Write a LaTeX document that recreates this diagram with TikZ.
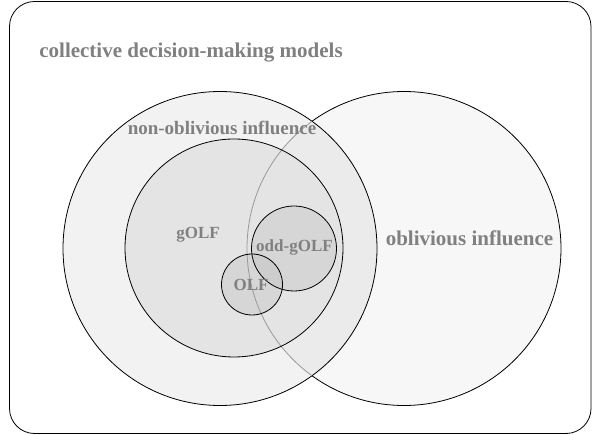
\documentclass[tikz,border=0pt]{standalone}
\usepackage{fontspec}
\setmainfont{Liberation Serif}
\definecolor{txtgray}{HTML}{808080}
\definecolor{fillA}{HTML}{F2F2F2}
\definecolor{fillAB}{HTML}{EBEBEB}
\definecolor{fillB}{HTML}{F7F7F7}
\definecolor{fillG}{HTML}{E4E4E4}
\definecolor{fillS}{HTML}{D6D6D6}
\definecolor{fillSS}{HTML}{CDCDCD}
\definecolor{arcgray}{HTML}{9A9A9A}
\tikzset{
  ring/.style={draw=black, line width=0.8pt},
  lbl/.style={text=txtgray, font=\bfseries, inner sep=0pt, anchor=center},
}
\begin{document}
\begin{tikzpicture}[x=1pt,y=-1pt]
\useasboundingbox (0,0) rectangle (592,435);
\coordinate (cA) at (220,248.5);
\coordinate (cB) at (404,248.5);
\coordinate (cG) at (234,248);
\coordinate (cS) at (294,248.5);
\coordinate (cO) at (252,284.5);
% frame
\draw[black, line width=0.8pt, rounded corners=25pt] (9.5,1.5) rectangle (591,433.5);
% oblivious influence
\fill[fillB] (cB) circle[radius=157];
\draw[ring] (cB) circle[radius=157];
% non-oblivious influence
\fill[fillA] (cA) circle[radius=157];
\begin{scope}
  \clip (cB) circle[radius=157];
  \fill[fillAB] (cA) circle[radius=157];
\end{scope}
\draw[ring] (cA) circle[radius=157];
% gOLF
\fill[fillG] (cG) circle[radius=109];
% odd-gOLF and OLF
\fill[fillS] (cS) circle[radius=42.5];
\fill[fillS] (cO) circle[radius=30.5];
\begin{scope}
  \clip (cS) circle[radius=42.5];
  \fill[fillSS] (cO) circle[radius=30.5];
\end{scope}
% arc of oblivious influence inside the left circle
\begin{scope}
  \clip (cA) circle[radius=156.6];
  \draw[arcgray, line width=0.8pt] (cB) circle[radius=157];
\end{scope}
\draw[ring] (cG) circle[radius=109];
\draw[ring] (cS) circle[radius=42.5];
\draw[ring] (cO) circle[radius=30.5];
% labels
\node[lbl, font=\fontsize{21}{24}\selectfont\bfseries] (title) at (191,53) {collective decision-making models};
\node[lbl, font=\fontsize{19}{22}\selectfont\bfseries] (nonobl) at (222,128) {non-oblivious influence};
\node[lbl, font=\fontsize{21}{24}\selectfont\bfseries] (obl) at (469.5,238) {oblivious influence};
\node[lbl, font=\fontsize{17}{20}\selectfont\bfseries] (golf) at (198,235) {gOLF};
\node[lbl, font=\fontsize{17}{20}\selectfont\bfseries] (oddgolf) at (294.5,247) {odd-gOLF};
\node[lbl, font=\fontsize{17}{20}\selectfont\bfseries] (olf) at (251,285) {OLF};
\end{tikzpicture}
\end{document}
